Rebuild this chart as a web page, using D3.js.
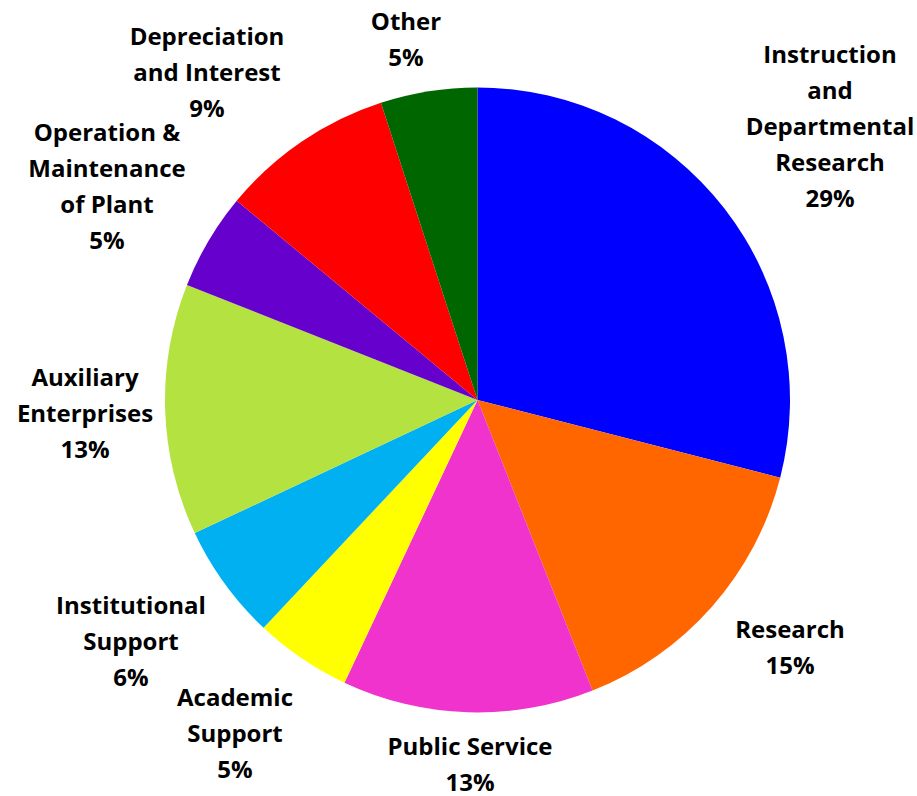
<!DOCTYPE html>
<html>
<head>
<meta charset="utf-8">
<script src="https://cdn.jsdelivr.net/npm/d3@7/dist/d3.min.js"></script>
<style>
  html, body { margin: 0; padding: 0; background: #ffffff; }
  svg { display: block; }
  .lbl { font-family: "Open Sans", Lato, sans-serif; font-weight: 700; font-size: 24px; fill: #000; }
</style>
</head>
<body>
<svg id="chart" width="917" height="796"></svg>
<script>
// Expenditure shares by function, clockwise from 12 o'clock
const categories = [
  ["Instruction", "and", "Departmental", "Research"],
  ["Research"],
  ["Public Service"],
  ["Academic", "Support"],
  ["Institutional", "Support"],
  ["Auxiliary", "Enterprises"],
  ["Operation &", "Maintenance", "of Plant"],
  ["Depreciation", "and Interest"],
  ["Other"]
];
const shares = [29, 15, 13, 5, 6, 13, 5, 9, 5];
const colors = ["#0000FF", "#FF6600", "#F033CC", "#FFFF00", "#00B0F0",
                "#B3E241", "#6600CC", "#FF0000", "#006600"];
// label anchor (centre x, centre y of first line)
const labelPos = [
  [830, 53], [790, 628], [470, 745], [235, 696], [131, 604],
  [85, 376], [107, 131], [207, 35], [406, 20]
];

const W = 917, H = 796;
const cx = 477.5, cy = 400, R = 312.5;
const lineH = 36;

const svg = d3.select("#chart");
const g = svg.append("g").attr("transform", `translate(${cx},${cy})`);

const pie = d3.pie().sort(null).value(d => d);
const arc = d3.arc().innerRadius(0).outerRadius(R);
const arcs = pie(shares);

g.selectAll("path.slice")
  .data(arcs)
  .join("path")
  .attr("class", "slice")
  .attr("d", arc)
  .attr("fill", (d, i) => colors[i]);

const labels = svg.selectAll("text.lbl")
  .data(categories.map((c, i) => ({ lines: c.concat([shares[i] + "%"]), pos: labelPos[i] })))
  .join("text")
  .attr("class", "lbl")
  .attr("text-anchor", "middle")
  .attr("dominant-baseline", "central");

labels.each(function (d) {
  d3.select(this).selectAll("tspan")
    .data(d.lines)
    .join("tspan")
    .attr("x", d.pos[0])
    .attr("y", (t, j) => d.pos[1] + j * lineH)
    .text(t => t);
});
</script>
</body>
</html>
